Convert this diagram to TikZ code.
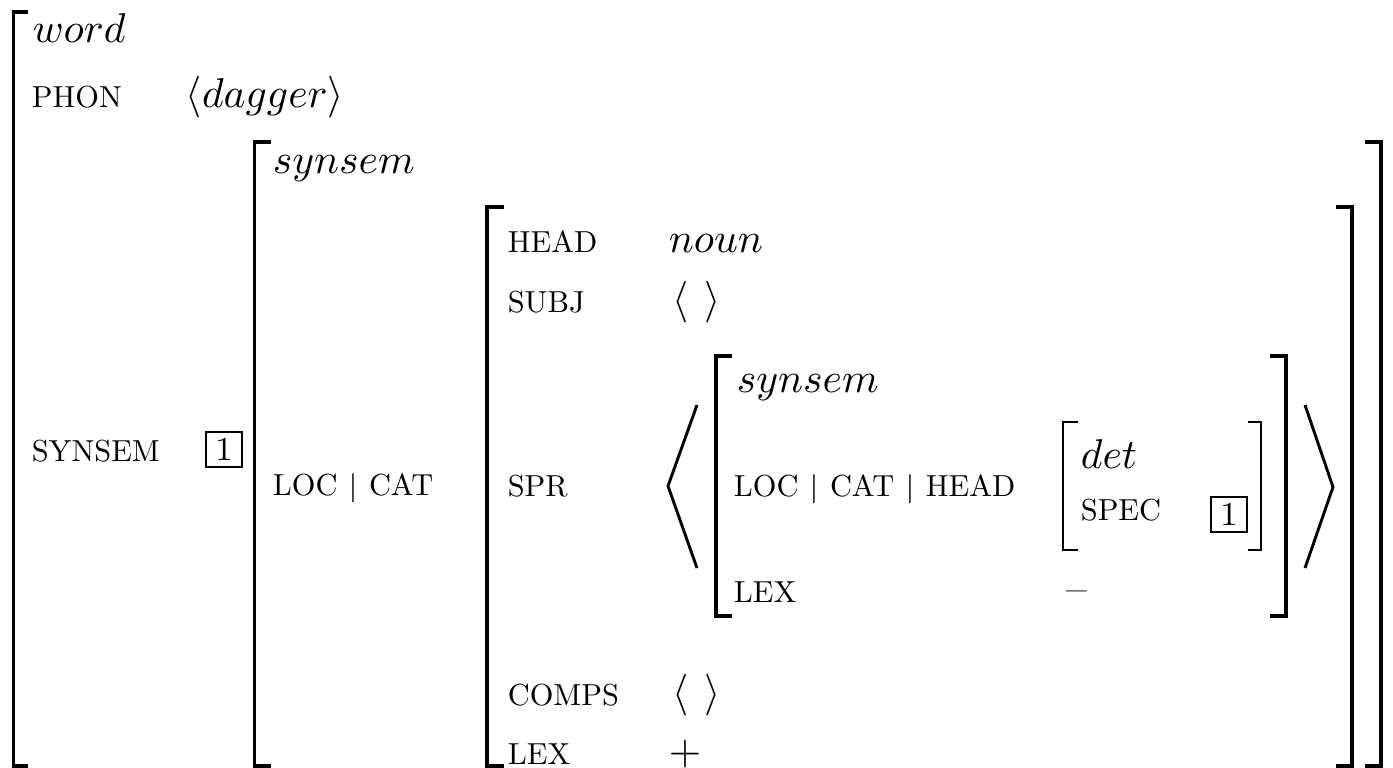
\documentclass[tikz,border=0pt]{standalone}
\font\attrfont="[lmroman10-regular]:mapping=tex-text" at 7.3pt
\newcommand{\pbar}{\hspace{2.6pt}$\scriptstyle|$\hspace{2.6pt}}

\begin{document}
\begin{tikzpicture}[x=0.24pt,y=-0.24pt,
  attr/.style={anchor=base west,inner sep=0pt,font=\attrfont},
  val/.style={anchor=base west,inner sep=0pt},
  tag/.style={draw,line width=0.6pt,inner sep=0pt,minimum width=8.6pt,minimum height=8.4pt,font=\footnotesize},
  brk/.style={line width=0.8pt},
  smallbrk/.style={line width=0.6pt},
  angl/.style={line width=0.7pt}]
  \useasboundingbox (0,0) rectangle (1393,767);
  % brackets, left side
  \draw[brk] (28,12) -- (13.5,12) -- (13.5,766) -- (28,766);
  \draw[brk] (271,142) -- (254.5,142) -- (254.5,766) -- (271,766);
  \draw[brk] (504,207) -- (487,207) -- (487,766) -- (504,766);
  \draw[brk] (732,356) -- (716,356) -- (716,616) -- (732,616);
  \draw[smallbrk] (1078,422) -- (1063,422) -- (1063,550) -- (1078,550);
  % brackets, right side
  \draw[smallbrk] (1248,422) -- (1261,422) -- (1261,550) -- (1248,550);
  \draw[brk] (1270,356) -- (1286,356) -- (1286,616) -- (1270,616);
  \draw[brk] (1336,207) -- (1352,207) -- (1352,766) -- (1336,766);
  \draw[brk] (1365,142) -- (1381,142) -- (1381,766) -- (1365,766);
  % big angles round the spr list
  \draw[angl] (697,405) -- (668,486) -- (697,568);
  \draw[angl] (1305,405) -- (1333,487) -- (1305,568);
  % word
  \node[val] (word) at (32,42) {$word$};
  \node[attr] (phon) at (31,107) {PHON};
  \node[val] (dagger) at (185,107) {$\langle dagger\rangle$};
  \node[attr] (synsem) at (31,461) {SYNSEM};
  \node[tag] (tagA) at (224,449.5) {1};
  % synsem
  \node[val] (synsemtype) at (272,173) {$synsem$};
  \node[attr] (loccat) at (272,495) {LOC\pbar CAT};
  % cat
  \node[attr] (head) at (507,252) {HEAD};
  \node[val] (noun) at (668,252) {$noun$};
  \node[attr] (subj) at (507,312) {SUBJ};
  \node[val] (subjval) at (672,312) {$\langle\hspace{3.6pt}\rangle$};
  \node[attr] (spr) at (507,496) {SPR};
  \node[attr] (comps) at (507,705) {COMPS};
  \node[val] (compsval) at (672,705) {$\langle\hspace{3.6pt}\rangle$};
  \node[attr] (lex) at (507,764) {LEX};
  \node[val] (lexval) at (668,764) {$+$};
  % spr element
  \node[val] (sprtype) at (736,392) {$synsem$};
  \node[attr] (path) at (733,496) {LOC\pbar CAT\pbar HEAD};
  \node[val] (det) at (1080,468) {$det$};
  \node[attr] (spec) at (1080,520) {SPEC};
  \node[tag] (tagB) at (1229,514.5) {1};
  \node[attr] (sprlex) at (733,602) {LEX};
  \node[val] (sprlexval) at (1066,602) {\textendash};
\end{tikzpicture}
\end{document}
